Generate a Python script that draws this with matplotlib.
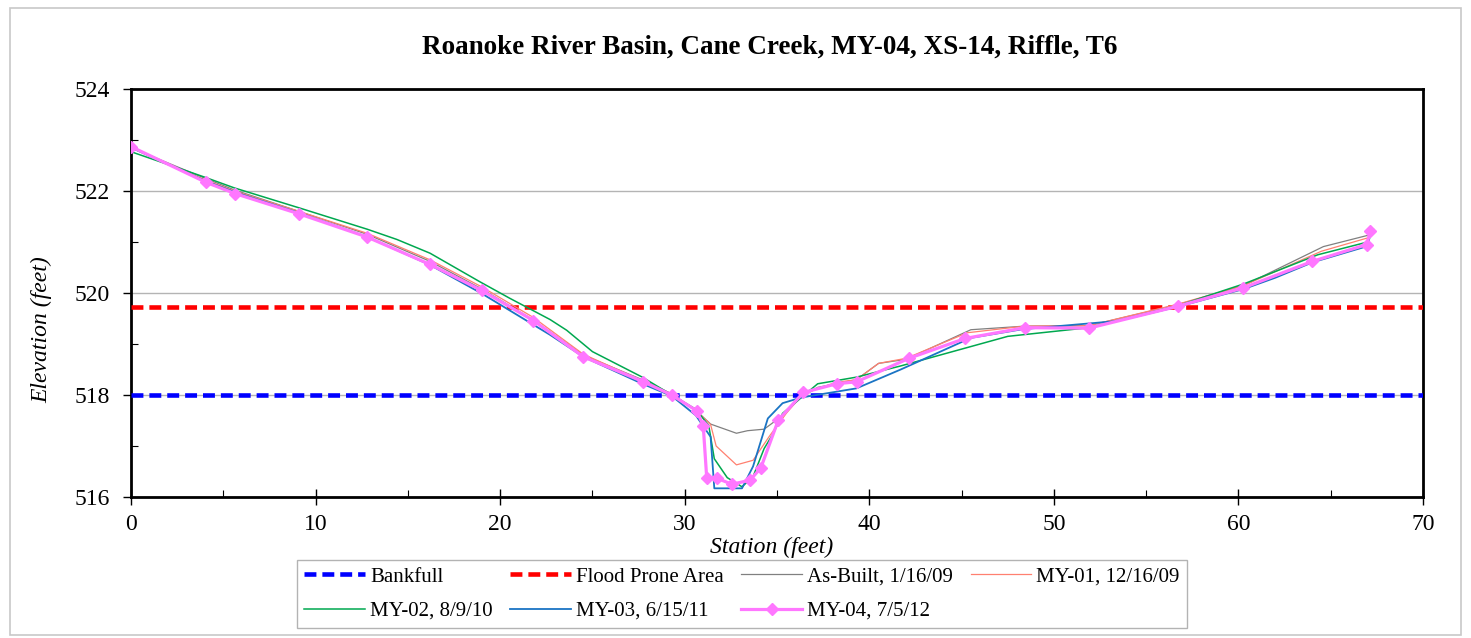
import matplotlib
matplotlib.use('Agg')
import matplotlib.pyplot as plt
from matplotlib.patches import Rectangle
from matplotlib.ticker import MultipleLocator

plt.rcParams['font.family'] = ['Liberation Serif', 'DejaVu Serif']

## reference elevations
bankfull = 518.0
flood_prone = 519.73

## As-Built, 1/16/09
asbuilt_x = [0, 4.0, 5.6, 9.1, 12.8, 16.2, 19.0, 21.8, 24.5, 27.7, 29.3, 30.6, 31.4, 32.8, 33.4,
             34.3, 35.2, 36.3, 37.2, 39.3, 40.5, 42.0, 45.5, 48.4, 51.9, 56.7, 60.3, 64.6, 67.0, 67.2]
asbuilt_y = [522.85, 522.25, 522.02, 521.6, 521.15, 520.62, 520.08, 519.47, 518.78, 518.3, 518.02,
             517.7, 517.43, 517.25, 517.3, 517.33, 517.57, 517.95, 518.15, 518.3, 518.62, 518.7,
             519.28, 519.35, 519.36, 519.77, 520.15, 520.91, 521.13, 521.2]

## MY-01, 12/16/09
my01_x = [0, 4.0, 5.6, 9.1, 12.8, 16.2, 19.0, 21.8, 24.5, 27.7, 29.3, 30.6, 31.4, 31.7, 32.8, 33.7,
          34.6, 35.5, 36.4, 38.2, 39.3, 40.5, 42.0, 45.3, 48.4, 51.9, 56.7, 60.3, 64.5, 67.0, 67.2]
my01_y = [522.85, 522.22, 522.0, 521.6, 521.17, 520.65, 520.12, 519.52, 518.8, 518.28, 518.02,
          517.7, 517.42, 517.0, 516.63, 516.72, 517.2, 517.64, 518.02, 518.25, 518.3, 518.62,
          518.72, 519.22, 519.35, 519.36, 519.78, 520.15, 520.82, 521.08, 521.2]

## MY-02, 8/9/10
my02_x = [0, 4.0, 5.6, 9.1, 12.8, 14.4, 16.2, 18.9, 20.5, 22.7, 23.6, 25.0, 27.7, 29.3, 30.6, 31.3,
          31.6, 32.3, 33.1, 33.7, 34.3, 34.8, 35.3, 37.2, 39.3, 41.7, 45.0, 47.5, 51.9, 56.7, 60.3,
          64.3, 67.0, 67.3]
my02_y = [522.77, 522.27, 522.06, 521.67, 521.25, 521.05, 520.78, 520.22, 519.9, 519.48, 519.27,
          518.85, 518.35, 518.0, 517.72, 517.4, 516.75, 516.38, 516.2, 516.4, 516.95, 517.25,
          517.64, 518.22, 518.35, 518.57, 518.9, 519.15, 519.32, 519.75, 520.18, 520.75, 521.0, 521.25]

## MY-03, 6/15/11
my03_x = [0, 4.0, 5.6, 9.1, 12.8, 16.2, 19.0, 22.7, 24.5, 27.7, 29.3, 30.6, 31.4, 31.6, 33.1, 33.7,
          34.5, 35.3, 36.3, 39.3, 41.7, 45.5, 48.3, 53.4, 56.7, 60.3, 62.0, 64.0, 67.0, 67.2]
my03_y = [522.85, 522.2, 521.98, 521.57, 521.1, 520.55, 519.99, 519.18, 518.75, 518.22, 517.98,
          517.6, 517.18, 516.17, 516.17, 516.6, 517.54, 517.84, 517.95, 518.13, 518.5, 519.12,
          519.29, 519.45, 519.73, 520.08, 520.3, 520.6, 520.92, 521.25]

## MY-04, 7/5/12
my04_x = [0, 4.06, 5.63, 9.12, 12.77, 16.2, 19.0, 21.8, 24.5, 27.76, 29.29, 30.65, 31.0, 31.19,
          31.73, 32.55, 33.54, 34.12, 35.07, 36.43, 38.23, 39.32, 42.15, 45.2, 48.44, 51.89, 56.71,
          60.26, 64.0, 66.95, 67.15]
my04_y = [522.87, 522.17, 521.95, 521.55, 521.1, 520.56, 520.05, 519.46, 518.75, 518.26, 518.0,
          517.69, 517.4, 516.37, 516.37, 516.25, 516.33, 516.57, 517.51, 518.05, 518.22, 518.26,
          518.72, 519.11, 519.32, 519.31, 519.74, 520.1, 520.62, 520.95, 521.22]

xlim = (0, 70)
ylim = (516, 524)

fig = plt.figure(figsize=(14.71, 6.38), dpi=100)
ax = fig.add_axes([0.0891, 0.221, 0.8783, 0.6395])

## outer chart border
fig.patches.append(Rectangle((0.007, 0.004), 0.986, 0.984, transform=fig.transFigure,
                             fill=False, edgecolor='#c8c8c8', linewidth=1.2))

ax.yaxis.grid(True, which='major', color='#b4b4b4', linewidth=1.0)
ax.set_axisbelow(True)

h_bf, = ax.plot(xlim, [bankfull, bankfull], color='#0000ff', linewidth=3.3, dashes=(2.6, 1.3),
                label='Bankfull', zorder=3)
h_fp, = ax.plot(xlim, [flood_prone, flood_prone], color='#ff0000', linewidth=3.3, dashes=(2.6, 1.3),
                label='Flood Prone Area', zorder=3)
h_ab, = ax.plot(asbuilt_x, asbuilt_y, color='#808080', linewidth=0.9, label='As-Built, 1/16/09', zorder=4)
h_01, = ax.plot(my01_x, my01_y, color='#ff8070', linewidth=0.9, label='MY-01, 12/16/09', zorder=4)
h_02, = ax.plot(my02_x, my02_y, color='#00a84f', linewidth=1.1, label='MY-02, 8/9/10', zorder=4)
h_03, = ax.plot(my03_x, my03_y, color='#1a74c4', linewidth=1.3, label='MY-03, 6/15/11', zorder=4)
h_04, = ax.plot(my04_x, my04_y, color='#ff77ff', linewidth=2.3, marker='D', markersize=6.3,
                label='MY-04, 7/5/12', zorder=5)

ax.set_xlim(*xlim)
ax.set_ylim(*ylim)
ax.xaxis.set_major_locator(MultipleLocator(10))
ax.xaxis.set_minor_locator(MultipleLocator(5))
ax.yaxis.set_major_locator(MultipleLocator(2))
ax.yaxis.set_minor_locator(MultipleLocator(1))
ax.tick_params(axis='x', which='major', direction='inout', length=12, width=1, labelsize=17, pad=6)
ax.tick_params(axis='x', which='minor', direction='in', length=5, width=0.8)
ax.tick_params(axis='y', which='major', direction='out', length=6, width=1, labelsize=17, pad=9)
ax.tick_params(axis='y', which='minor', direction='in', length=5, width=0.8)
for sp in ax.spines.values():
    sp.set_linewidth(2)

fig.text(770 / 1471, 1 - 47 / 638, 'Roanoke River Basin, Cane Creek, MY-04, XS-14, Riffle, T6',
         fontsize=19.5, fontweight='bold', ha='center', va='center')
fig.text(772 / 1471, 1 - 547 / 638, 'Station (feet)', fontsize=17, style='italic',
         ha='center', va='center')
fig.text(42 / 1471, 1 - 330 / 638, 'Elevation (feet)', fontsize=17, style='italic',
         ha='center', va='center', rotation=90)

## legend filled row by row (matplotlib fills columns, so reorder)
handles = [h_bf, h_02, h_fp, h_03, h_ab, h_04, h_01]
leg = ax.legend(handles=handles, labels=[h.get_label() for h in handles],
                loc='upper left', bbox_to_anchor=(0.1285, -0.154), ncol=4, fontsize=15,
                frameon=True, fancybox=False, edgecolor='#a0a0a0', handlelength=2.9,
                handletextpad=0.25, columnspacing=0.85, borderpad=0.35, labelspacing=0.7,
                borderaxespad=0)
leg.get_frame().set_linewidth(1.0)

fig.savefig('out.png', dpi=100)
